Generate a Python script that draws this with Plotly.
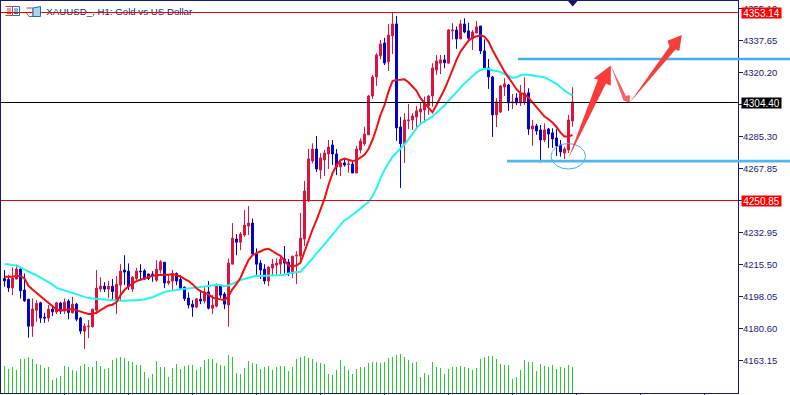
import plotly.graph_objects as go

opens = [4208.1,4207.6,4203.0,4207.8,4213.2,4201.8,4196.8,4182.1,4190.8,4194.8,
4187.0,4186.5,4191.4,4189.8,4194.7,4190.3,4195.8,4189.4,4194.1,4186.5,
4179.4,4181.8,4181.8,4190.8,4202.3,4203.9,4202.3,4203.9,4195.8,4204.5,
4212.7,4212.1,4202.3,4208.1,4212.1,4212.3,4210.5,4210.5,4207.2,4212.7,
4217.0,4205.6,4206.7,4210.8,4207.6,4203.4,4197.4,4194.1,4192.5,4196.8,
4195.8,4200.7,4191.9,4193.0,4203.9,4199.6,4193.6,4215.9,4229.6,4227.9,
4231.8,4236.7,4238.3,4221.4,4216.5,4213.2,4206.7,4213.8,4215.4,4215.9,
4218.7,4217.0,4211.0,4220.3,4220.3,4229.6,4250.4,4272.2,4278.7,4267.3,
4272.7,4276.0,4280.9,4276.0,4268.9,4271.1,4270.2,4270.5,4265.6,4278.2,
4281.5,4286.4,4307.6,4318.0,4329.5,4336.5,4326.2,4340.4,4346.9,4290.7,
4281.5,4294.2,4294.5,4296.2,4298.9,4300.0,4302.2,4307.6,4321.8,4325.5,
4327.3,4325.5,4343.1,4343.6,4338.7,4346.9,4343.1,4338.7,4342.0,4345.8,
4332.2,4322.9,4318.0,4297.3,4298.9,4312.5,4313.6,4303.8,4306.5,4303.8,
4304.4,4309.3,4289.6,4291.3,4289.1,4283.6,4289.6,4287.5,4284.7,4280.9,
4276.5,4278.2,4294.0]
highs = [4212.7,4209.9,4214.1,4214.8,4214.5,4210.8,4196.8,4197.2,4196.3,4195.4,
4189.4,4193.6,4193.2,4195.4,4195.4,4197.2,4196.8,4198.1,4194.8,4187.2,
4183.6,4185.4,4191.4,4212.7,4208.7,4206.1,4206.8,4207.8,4209.4,4215.9,
4220.8,4216.3,4209.4,4213.8,4215.9,4213.2,4210.8,4212.1,4218.1,4218.1,
4217.0,4209.9,4212.7,4211.4,4209.9,4203.6,4200.5,4196.3,4197.4,4201.8,
4203.6,4206.7,4199.0,4205.4,4205.0,4200.7,4219.0,4238.3,4232.3,4233.4,
4245.4,4247.6,4240.8,4224.5,4218.1,4215.9,4214.8,4218.7,4219.0,4220.8,
4225.8,4218.7,4220.3,4223.0,4243.8,4261.3,4278.7,4281.8,4285.8,4276.4,
4278.2,4283.6,4283.6,4278.7,4272.7,4273.6,4272.7,4272.7,4280.4,4284.5,
4290.9,4308.2,4319.1,4330.9,4338.2,4339.3,4346.9,4353.3,4351.3,4296.2,
4298.2,4303.3,4298.2,4302.2,4304.0,4307.3,4308.2,4325.5,4330.0,4330.0,
4330.0,4344.0,4347.3,4345.5,4349.1,4350.0,4347.6,4343.6,4348.5,4345.8,
4338.5,4327.8,4318.5,4306.4,4313.6,4317.3,4314.2,4308.7,4309.1,4313.6,
4317.8,4311.8,4294.5,4292.4,4291.8,4292.7,4290.2,4290.0,4289.5,4283.6,
4280.0,4297.3,4312.4]
lows = [4203.6,4200.8,4199.0,4207.6,4197.2,4195.4,4175.8,4176.3,4184.5,4183.9,
4183.9,4184.5,4187.6,4188.7,4188.7,4188.7,4185.8,4189.0,4184.8,4177.8,
4169.6,4175.6,4181.4,4188.7,4200.7,4200.7,4197.4,4195.9,4188.7,4195.8,
4204.5,4201.8,4200.8,4207.2,4207.2,4207.2,4207.2,4206.3,4206.3,4210.8,
4202.8,4204.5,4201.8,4204.5,4202.3,4195.8,4191.8,4187.2,4191.9,4194.1,
4194.5,4191.2,4188.7,4192.3,4197.4,4191.4,4181.8,4215.9,4220.8,4223.6,
4230.8,4231.8,4220.8,4209.9,4207.8,4205.0,4203.9,4209.4,4209.9,4210.5,
4210.8,4209.4,4208.3,4205.0,4215.9,4225.8,4249.8,4270.9,4266.2,4262.4,
4264.0,4267.8,4270.0,4264.5,4264.0,4269.1,4265.8,4265.6,4265.6,4276.4,
4280.4,4286.4,4306.0,4313.1,4327.6,4324.5,4321.3,4330.5,4283.1,4257.5,
4271.1,4289.6,4289.1,4289.6,4292.4,4293.1,4297.3,4301.8,4319.1,4319.6,
4322.7,4325.5,4338.5,4333.3,4338.7,4341.8,4336.9,4332.7,4341.8,4330.5,
4322.4,4311.5,4285.3,4290.7,4298.2,4307.6,4299.5,4300.5,4302.7,4302.2,
4302.7,4286.4,4280.4,4286.4,4271.3,4282.5,4279.3,4279.3,4274.9,4274.5,
4273.3,4276.5,4290.9]
closes = [4206.8,4203.0,4208.1,4213.2,4201.4,4195.9,4182.1,4191.4,4194.5,4186.5,
4186.5,4191.4,4189.9,4194.8,4190.3,4195.2,4189.6,4194.1,4185.9,4179.4,
4182.1,4182.1,4191.4,4202.8,4203.9,4202.3,4203.9,4201.0,4205.0,4212.1,
4211.6,4203.6,4208.8,4212.1,4211.8,4207.8,4208.1,4209.4,4213.2,4217.2,
4205.6,4206.7,4210.8,4206.7,4202.8,4197.2,4193.6,4192.5,4197.0,4195.8,
4200.7,4191.9,4193.6,4203.9,4199.0,4194.1,4216.5,4230.1,4227.9,4232.3,
4237.2,4238.3,4221.4,4215.9,4212.7,4206.7,4214.3,4215.9,4216.5,4218.5,
4216.5,4211.0,4220.3,4220.8,4230.1,4255.8,4273.3,4278.7,4267.8,4273.8,
4276.5,4279.8,4276.0,4268.9,4271.1,4270.0,4270.5,4265.6,4278.7,4283.1,
4286.9,4307.6,4318.0,4330.0,4336.0,4325.6,4340.9,4346.9,4290.2,4281.5,
4294.5,4294.5,4296.7,4299.5,4300.5,4303.8,4307.6,4322.9,4326.7,4327.3,
4325.8,4343.6,4343.6,4338.7,4346.9,4342.5,4339.1,4342.5,4345.3,4332.2,
4322.9,4318.0,4297.3,4304.4,4313.1,4314.2,4303.8,4304.4,4303.8,4308.7,
4309.1,4289.6,4291.3,4288.5,4283.6,4289.1,4286.9,4284.2,4280.4,4277.1,
4278.7,4294.5,4304.4]
ma_fast = [4209.0,4208.8,4209.0,4209.4,4209.4,4208.1,4204.1,4202.1,4200.3,4198.5,
4196.7,4194.5,4192.7,4191.2,4190.7,4190.8,4191.0,4191.4,4190.7,4190.1,
4189.6,4188.7,4188.7,4189.4,4190.8,4192.3,4193.4,4193.8,4195.2,4199.0,
4201.8,4203.9,4205.4,4206.7,4207.4,4208.1,4208.7,4209.6,4209.8,4210.1,
4210.1,4210.1,4210.5,4209.9,4209.2,4207.9,4206.7,4205.0,4202.8,4201.2,
4200.3,4199.4,4197.8,4197.0,4196.7,4196.3,4198.5,4202.3,4205.2,4208.5,
4213.4,4218.1,4220.8,4221.8,4222.8,4223.9,4224.3,4222.8,4221.6,4220.5,
4217.8,4215.2,4214.8,4215.2,4216.7,4222.7,4229.6,4234.8,4239.9,4245.4,
4251.5,4259.1,4265.5,4269.6,4272.7,4273.5,4272.7,4272.2,4272.5,4274.2,
4275.5,4278.7,4283.6,4290.0,4297.3,4302.7,4310.0,4315.8,4316.4,4316.5,
4316.7,4315.1,4312.7,4310.4,4306.4,4304.0,4301.5,4298.7,4302.7,4306.9,
4311.3,4316.4,4322.2,4327.3,4331.8,4335.1,4337.8,4339.5,4340.0,4340.7,
4340.0,4337.3,4332.7,4328.7,4325.5,4320.9,4317.8,4314.5,4311.3,4309.1,
4308.7,4306.7,4304.0,4301.5,4298.5,4296.4,4294.9,4293.1,4290.7,4287.6,
4285.5,4285.5,4286.4]
ma_slow = [4215.9,4215.9,4215.4,4215.2,4214.1,4213.0,4211.6,4210.8,4209.9,4208.7,
4207.6,4206.3,4204.8,4203.0,4202.3,4201.4,4200.7,4200.3,4199.6,4198.8,
4197.9,4197.4,4197.2,4197.0,4196.8,4196.7,4196.3,4195.9,4195.9,4195.9,
4195.9,4195.9,4195.9,4195.9,4196.3,4196.8,4197.2,4197.9,4198.8,4199.8,
4200.7,4201.2,4201.6,4202.1,4202.3,4202.5,4202.7,4203.0,4203.2,4203.4,
4203.8,4204.3,4204.5,4204.5,4204.5,4203.9,4204.3,4205.4,4206.3,4207.2,
4207.9,4208.5,4209.2,4209.6,4209.4,4209.6,4209.8,4209.9,4209.9,4209.9,
4210.1,4210.8,4211.4,4211.6,4211.8,4214.1,4216.3,4219.0,4221.8,4224.0,
4226.7,4229.4,4232.1,4234.5,4237.2,4239.9,4241.2,4242.7,4244.5,4246.3,
4248.1,4249.9,4253.0,4257.3,4262.7,4267.3,4270.9,4274.5,4276.7,4278.9,
4281.3,4284.0,4287.3,4290.0,4292.4,4293.6,4294.9,4296.4,4298.5,4300.4,
4302.4,4304.9,4307.3,4310.0,4312.7,4314.5,4316.4,4318.5,4320.4,4321.8,
4322.4,4322.4,4321.6,4321.3,4320.7,4319.6,4318.7,4317.5,4317.8,4318.9,
4319.3,4319.3,4318.9,4318.4,4318.2,4317.8,4316.7,4315.6,4314.2,4312.4,
4310.5,4309.1,4308.0]
volumes = [82,73,79,70,103,103,109,103,88,85,76,79,40,46,52,82,79,70,67,82,88,79,79,97,82,
73,76,100,106,109,106,97,94,85,85,64,46,58,97,79,79,49,76,88,73,82,85,85,70,
77,100,103,103,91,85,82,114,109,61,
58,76,97,91,88,73,79,82,70,79,82,82,67,79,103,109,112,106,103,94,91,88,58,55,70,100,82,70,
58,73,79,79,91,94,94,91,94,106,109,115,118,109,100,91,94,49,61,55,94,79,76,58,73,79,79,82,
79,76,70,76,103,109,112,112,103,88,85,85,43,49,70,100,94,94,67,88,82,79,85,73,79,76,85,79]
tick_vals = [4355.10,4337.65,4320.20,4302.75,4285.30,4267.85,4250.40,4232.95,4215.50,4198.05,4180.60,4163.15]
level_high, level_mid, level_low = 4353.14, 4304.06, 4250.62
level_labels = ["4353.14", "4304.40", "4250.85"]
target_up, target_down = 4327.8, 4272.1

for a in (opens, highs, lows, closes, ma_fast, ma_slow, volumes):
    assert len(a) == 143, len(a)

W, H = 790, 395
L, R, T, B = 1, 52, 1, 2
NAVY = "#1a1a70"
xs = list(range(143))
def px(x): return (x - L) / (W - L - R)
def py(y): return 1 - (y - T) / (H - T - B)
def path(points, close=True):
    d = " ".join(("M" if k == 0 else "L") + f"{px(x):.5f},{py(y):.5f}" for k, (x, y) in enumerate(points))
    return d + (" Z" if close else "")
def shape_poly(points, fill=None, line=None, lw=1):
    return dict(type="path", xref="paper", yref="paper", path=path(points, fill is not None),
                fillcolor=fill if fill else "rgba(0,0,0,0)", line=dict(color=line or "rgba(0,0,0,0)", width=lw), layer="above")

fig = go.Figure()
fig.add_bar(x=xs, y=volumes, yaxis="y2", width=0.2, marker=dict(color="#27cf2b", line_width=0), showlegend=False)
fig.add_candlestick(x=xs, open=opens, high=highs, low=lows, close=closes, whiskerwidth=0, showlegend=False,
    increasing=dict(line=dict(color="#dc143c", width=1), fillcolor="#dc143c"),
    decreasing=dict(line=dict(color="#0000cd", width=1), fillcolor="#0000cd"))
fig.add_scatter(x=xs, y=ma_slow, mode="lines", line=dict(color="#1ff6f6", width=2), showlegend=False)
fig.add_scatter(x=xs, y=ma_fast, mode="lines", line=dict(color="#f50f0f", width=2), showlegend=False)
fig.add_scatter(x=[10.45], y=[4353.0], mode="text", text=["XAUUSD_, H1: Gold vs US Dollar"], textposition="middle right",
                textfont=dict(family="Liberation Sans", size=9.7, color=NAVY), showlegend=False, cliponaxis=False)

shapes = []
for lev, col in ((level_high, "#f20000"), (level_mid, "#000000"), (level_low, "#f20000")):
    shapes.append(dict(type="line", xref="paper", x0=0, x1=1, yref="y", y0=lev, y1=lev, line=dict(color=col, width=1), layer="above"))
shapes.append(dict(type="line", xref="paper", x0=px(518), x1=px(790), yref="y", y0=target_up, y1=target_up, line=dict(color="#45aef0", width=2.4), layer="above"))
shapes.append(dict(type="line", xref="paper", x0=px(507), x1=px(790), yref="y", y0=target_down, y1=target_down, line=dict(color="#55b5f2", width=2.8), layer="above"))
shapes.append(dict(type="circle", xref="paper", yref="paper", x0=px(551), x1=px(585.5), y0=py(169), y1=py(143.5),
                   line=dict(color="#45aef0", width=1), layer="above"))
shapes.append(shape_poly([(568.3,158.5),(598,79.5),(593.5,78.5),(610.8,65.5),(610.8,85.8),(606,83.5)], fill="#fb3a3a"))
shapes.append(shape_poly([(610.8,65.5),(626,96),(629.8,95),(629.8,102.5),(623.5,100.5)], fill="#f96060"))
shapes.append(shape_poly([(629.8,102.5),(669.5,46.5),(667.5,40.7),(681.8,35),(679.3,51),(675.5,49.5)], fill="#f83c3c"))
shapes.append(shape_poly([(568,1),(577.5,1),(572.7,6.5)], fill="#14146e"))
shapes.append(shape_poly([(5.5,6.5),(12.5,6.5),(12.5,15.5),(5.5,15.5)], line="#e03a30"))
shapes.append(shape_poly([(12.5,6.5),(19.5,6.5),(19.5,15.5),(12.5,15.5)], line="#1f6fb0"))
for yy in (9, 11, 13.5):
    shapes.append(shape_poly([(7,yy),(11,yy)], line="#e03a30"))
    shapes.append(shape_poly([(14,yy),(18,yy)], line="#1f6fb0"))
shapes.append(shape_poly([(26.5,8),(33,8),(33,16.5),(29,16.5),(26.5,13)], line="#e03a30"))
shapes.append(shape_poly([(33,8),(40.5,6.5),(40.5,16.5),(33,16.5)], line="#1f6fb0", fill="#a8d4f0"))

def tag(y, text, bg):
    return dict(xref="paper", yref="y", x=px(741), y=y, xanchor="left", yanchor="middle", text=text, showarrow=False,
                bgcolor=bg, width=39, height=10, borderpad=0, align="center",
                font=dict(family="Liberation Sans", size=10, color="#ffffff"))

fig.update_layout(
    width=W, height=H, margin=dict(l=L, r=R, t=T, b=B), paper_bgcolor="white", plot_bgcolor="white",
    bargap=0, shapes=shapes, showlegend=False, hovermode=False,
    annotations=[tag(level_high, level_labels[0], "#ff0000"), tag(level_mid, level_labels[1], "#000000"), tag(level_low, level_labels[2], "#ff0000")],
    xaxis=dict(range=[-0.875, 183.375], rangeslider=dict(visible=False), showgrid=False, zeroline=False,
               tickmode="array", tickvals=list(range(15, 183, 16)), ticktext=[""] * 11, ticks="outside", ticklen=1, tickcolor=NAVY,
               showline=True, linecolor=NAVY, linewidth=1, mirror=True),
    yaxis=dict(range=[4145.65, 4359.41], side="right", showgrid=False, zeroline=False,
               tickmode="array", tickvals=tick_vals, ticktext=[f"{v:.2f}" for v in tick_vals], ticks="outside", ticklen=4, tickcolor=NAVY,
               tickfont=dict(family="Liberation Sans", size=9.5, color=NAVY), ticklabelstandoff=-2,
               showline=True, linecolor=NAVY, linewidth=1, mirror=True),
    yaxis2=dict(overlaying="y", range=[0, 1176], visible=False),
)
fig.write_html("out.html", config=dict(displayModeBar=False), post_script="document.body.style.margin='0';")
